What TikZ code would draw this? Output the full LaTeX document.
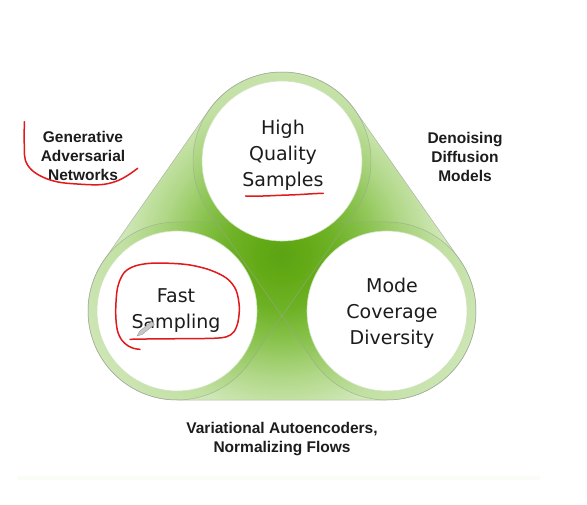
\documentclass[tikz,border=0pt]{standalone}
\usepackage{fontspec}
\usetikzlibrary{calc}
\newfontfamily\circfont{DejaVu Sans}
\newfontfamily\labelfont{Liberation Sans}

% greens of the radial fill, from the centre outwards
\definecolor{gA}{HTML}{4A9600}
\definecolor{gB}{HTML}{54A000}
\definecolor{gC}{HTML}{68AE1C}
\definecolor{gD}{HTML}{8FC656}
\definecolor{gE}{HTML}{BADD96}
\definecolor{gF}{HTML}{DDEFCB}
\definecolor{gG}{HTML}{F2F9EB}
\definecolor{capgreen}{HTML}{7CBC3A}
\definecolor{capgray}{HTML}{9AA694}
\definecolor{bubbleedge}{HTML}{CFE3BD}
\definecolor{ink}{HTML}{1C1C1C}
\definecolor{penred}{HTML}{E0191B}
\definecolor{faint}{HTML}{FAFCF8}

% 25bp of the shading spans the radius of the shaded circle (220 units)
\pgfdeclareradialshading{trishade}{\pgfpoint{0bp}{0bp}}{%
  color(0bp)=(gA); color(2.5bp)=(gB); color(6bp)=(gC); color(10bp)=(gD);
  color(14bp)=(gE); color(18bp)=(gF); color(25bp)=(gG); color(50bp)=(gG)}

\begin{document}
\begin{tikzpicture}[x=1pt,y=-1pt,
  capline/.style={draw=capgray, line width=0.5pt, draw opacity=0.75},
  capfill/.style={fill=capgreen, fill opacity=0.15},
  bubble/.style={fill=white, draw=bubbleedge, line width=0.6pt},
  big/.style={font=\circfont\fontsize{19}{26}\selectfont, align=center, text=ink, inner sep=0pt},
  tag/.style={font=\labelfont\bfseries\fontsize{15.5}{19}\selectfont, align=center, text=ink, inner sep=0pt},
  pen/.style={draw=penred, line width=1.5pt, line cap=round, line join=round}]
\useasboundingbox (0,0) rectangle (587,505);

% centres of the three bubbles
\coordinate (T)  at (282,161);
\coordinate (BL) at (177,311);
\coordinate (BR) at (387,311);
\def\R{89}

% faint strip near the bottom
\fill[faint] (17,476) rectangle (540,480);

% green body: union of the three capsules, shaded from the middle
\begin{scope}
  \clip ($(T)+(215:\R)$) -- ($(BL)+(215:\R)$) arc[start angle=215,end angle=35,radius=\R]
        -- ($(T)+(35:\R)$) arc[start angle=35,end angle=-145,radius=\R] -- cycle
        ($(T)+(145:\R)$) -- ($(BR)+(145:\R)$) arc[start angle=145,end angle=-35,radius=\R]
        -- ($(T)+(-35:\R)$) arc[start angle=-35,end angle=-215,radius=\R] -- cycle
        ($(BL)+(90:\R)$) -- ($(BR)+(90:\R)$) arc[start angle=90,end angle=-90,radius=\R]
        -- ($(BL)+(-90:\R)$) arc[start angle=-90,end angle=-270,radius=\R] -- cycle;
  \shade[shading=trishade] (282,255) circle (220);
\end{scope}

% each capsule adds a light green layer and an outline
\path[capfill] ($(T)+(215:\R)$) -- ($(BL)+(215:\R)$) arc[start angle=215,end angle=35,radius=\R]
      -- ($(T)+(35:\R)$) arc[start angle=35,end angle=-145,radius=\R] -- cycle;
\path[capfill] ($(T)+(145:\R)$) -- ($(BR)+(145:\R)$) arc[start angle=145,end angle=-35,radius=\R]
      -- ($(T)+(-35:\R)$) arc[start angle=-35,end angle=-215,radius=\R] -- cycle;
\path[capfill] ($(BL)+(90:\R)$) -- ($(BR)+(90:\R)$) arc[start angle=90,end angle=-90,radius=\R]
      -- ($(BL)+(-90:\R)$) arc[start angle=-90,end angle=-270,radius=\R] -- cycle;

\draw[capline] ($(T)+(215:\R)$) -- ($(BL)+(215:\R)$) arc[start angle=215,end angle=35,radius=\R]
      -- ($(T)+(35:\R)$) arc[start angle=35,end angle=-145,radius=\R] -- cycle;
\draw[capline] ($(T)+(145:\R)$) -- ($(BR)+(145:\R)$) arc[start angle=145,end angle=-35,radius=\R]
      -- ($(T)+(-35:\R)$) arc[start angle=-35,end angle=-215,radius=\R] -- cycle;
\draw[capline] ($(BL)+(90:\R)$) -- ($(BR)+(90:\R)$) arc[start angle=90,end angle=-90,radius=\R]
      -- ($(BL)+(-90:\R)$) arc[start angle=-90,end angle=-270,radius=\R] -- cycle;

% white bubbles
\path[bubble] (T)  circle (80);
\path[bubble] (BL) circle (80);
\path[bubble] (BR) circle (80);

% texts
\node[big] (hq) at (283,155) {High\\Quality\\Samples};
\node[big] (fs) at (176,311) {Fast\\Sampling};
\node[big] (mc) at (392,313) {Mode\\Coverage\\Diversity};
\node[tag] (gan) at (83,156) {Generative\\Adversarial\\Networks};
\node[tag] (ddm) at (465,157) {Denoising\\Diffusion\\Models};
\node[tag] (vae) at (282,439) {Variational Autoencoders,\\Normalizing Flows};

% red pen marks
\draw[pen] plot[smooth, tension=0.6] coordinates {(24.3,121.7) (24.3,146.7) (25.3,160) (31.7,170)
  (43.3,177.3) (58,182) (77,184) (100,184.7) (115,181.7) (126.7,176) (137.7,168.3)};
\draw[pen] plot[smooth, tension=0.6] coordinates {(245.7,196) (263.3,196) (280,195.3) (296.7,194.7)
  (313.3,193.7) (323.3,193.3)};
\draw[pen] plot[smooth, tension=0.55] coordinates {(140,349.3) (135,348.7) (128.3,346) (121.7,340)
  (117.3,330) (115.7,313.3) (116.7,293.3) (119.3,281.7) (125,271.7) (135,266) (150,263.3)
  (170,263.3) (190,265) (210,270) (226.7,278.3) (236,290) (239.3,306.7) (238,321.7)
  (234,331.7) (226.7,336.7) (213.3,338.3) (180,338.7) (146.7,339) (130,339.3)};

% pen cursor
\filldraw[fill=gray!45, draw=gray!75, line width=0.4pt]
  (137,336) -- (139.7,331.2) -- (151.7,321.4) -- (154.3,324.6) -- (142.3,334.4) -- cycle;
\end{tikzpicture}
\end{document}
